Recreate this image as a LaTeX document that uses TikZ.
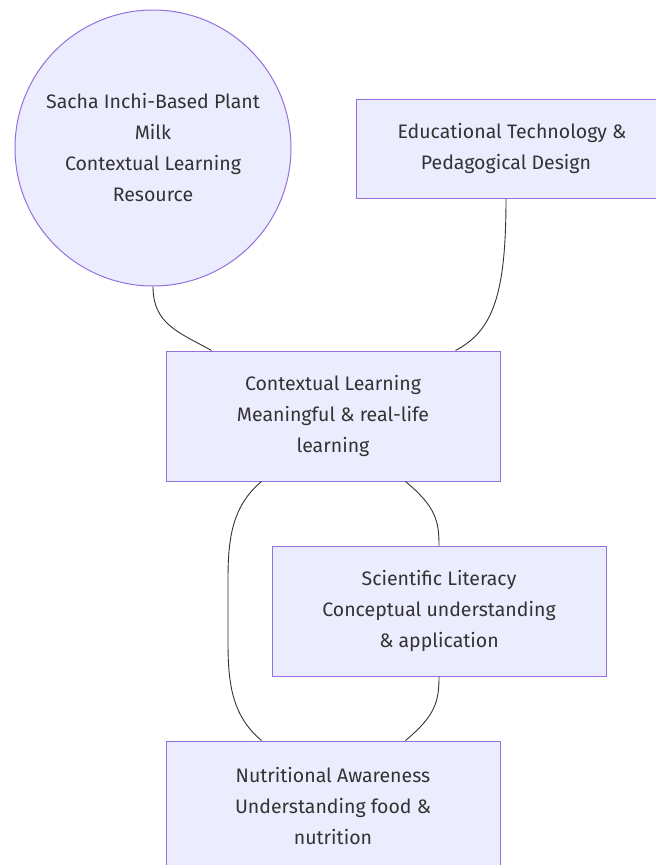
\documentclass[tikz,border=0pt]{standalone}
\usepackage{fontspec}
\setmainfont{Fira Sans}
\usepackage{xcolor}
\definecolor{boxfill}{HTML}{ECECFF}
\definecolor{boxline}{HTML}{9370DB}
\definecolor{ink}{HTML}{333333}

\begin{document}
\begin{tikzpicture}[x=1pt,y=-1pt,
  box/.style={draw=boxline,fill=boxfill,line width=1pt,text=ink,align=center,
    font=\fontsize{19.5}{31}\selectfont,inner sep=0pt},
  link/.style={draw=ink,line width=0.9pt}]
\useasboundingbox (0,0) rectangle (656,865);
\begin{scope}
\clip (0,0) rectangle (656,865);
% concept nodes
\node [box,circle,minimum size=276pt] (milk) at (153,148)
  {Sacha Inchi-Based Plant\\Milk\\Contextual Learning\\Resource};
\node [box,minimum width=300pt,minimum height=99pt] (tech) at (506,148.5)
  {\hspace*{12pt}Educational Technology \&\\Pedagogical Design};
\node [box,minimum width=334pt,minimum height=130pt] (ctx) at (333,416)
  {Contextual Learning\\Meaningful \& real-life\\learning};
\node [box,minimum width=334pt,minimum height=130pt] (sci) at (439,611)
  {Scientific Literacy\\Conceptual understanding\\\& application};
\node [box,minimum width=334pt,minimum height=130pt] (nut) at (333,806)
  {Nutritional Awareness\\Understanding food \&\\nutrition};
% links
\draw [link] (milk.south) .. controls +(0,38) and +(-32,-18) .. ([xshift=46pt]ctx.north west);
\draw [link] (tech.south) .. controls +(0,95) and +(38,-20) .. ([xshift=-45pt]ctx.north east);
\draw [link] ([xshift=96pt]ctx.south west) .. controls +(-30,25) and +(0,-40) .. (228,580)
  -- (228,642) .. controls +(0,40) and +(-30,-25) .. ([xshift=96pt]nut.north west);
\draw [link] ([xshift=-95pt]ctx.south east) .. controls +(30,25) and +(0,-25) .. (sci.north);
\draw [link] (sci.south) .. controls +(0,25) and +(30,-25) .. ([xshift=-95pt]nut.north east);
\end{scope}
\end{tikzpicture}
\end{document}
